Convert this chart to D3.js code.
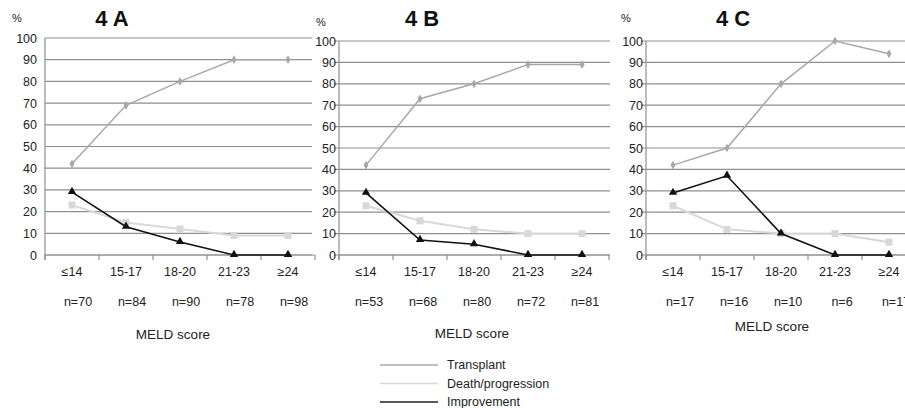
<!DOCTYPE html>
<html>
<head>
<meta charset="utf-8">
<script src="https://cdn.jsdelivr.net/npm/d3@7"></script>
<style>
  html, body { margin: 0; padding: 0; background: #fff; }
  svg { display: block; font-family: "Liberation Sans", Arial, sans-serif; }
</style>
</head>
<body>
<svg id="chart" width="905" height="408"></svg>
<script>
// MELD score groups and outcome percentages for the three cohorts
const categories = ["≤14", "15-17", "18-20", "21-23", "≥24"];
const yTicks = [0, 10, 20, 30, 40, 50, 60, 70, 80, 90, 100];

const transplantA = [42, 69, 80, 90, 90];
const deathA = [23, 15, 12, 9, 9];
const improvementA = [29, 13, 6, 0, 0];
const countsA = [70, 84, 90, 78, 98];

const transplantB = [42, 73, 80, 89, 89];
const deathB = [23, 16, 12, 10, 10];
const improvementB = [29, 7, 5, 0, 0];
const countsB = [53, 68, 80, 72, 81];

const transplantC = [42, 50, 80, 100, 94];
const deathC = [23, 12, 10, 10, 6];
const improvementC = [29, 37, 10, 0, 0];
const countsC = [17, 16, 10, 6, 17];

const seriesNames = ["Transplant", "Death/progression", "Improvement"];

const colors = {
  grid: "#8f8f8f",
  transplant: "#a8a8a8",
  death: "#d8d8d8",
  improvement: "#111111",
  text: "#222222"
};

const panels = [
  { title: "4 A", transplant: transplantA, death: deathA, improvement: improvementA, counts: countsA,
    left: 45, top: 38, gridEnd: 312, stub: 0, titleX: 112, pctX: 17, pctY: 22,
    nShift: 6, meldX: 173, meldY: 339 },
  { title: "4 B", transplant: transplantB, death: deathB, improvement: improvementB, counts: countsB,
    left: 339, top: 41, gridEnd: 610, stub: 5, titleX: 422, pctX: 321, pctY: 26,
    nShift: 3, meldX: 472, meldY: 338 },
  { title: "4 C", transplant: transplantC, death: deathC, improvement: improvementC, counts: countsC,
    left: 646, top: 41, gridEnd: 905, stub: 5, titleX: 733, pctX: 626, pctY: 22,
    nShift: 7, meldX: 772, meldY: 331 }
];

const bottom = 255;
const bandW = 54;
const svg = d3.select("#chart");

panels.forEach(p => {
  const g = svg.append("g");
  const x = d3.scaleBand().domain(categories).range([p.left, p.left + bandW * categories.length]);
  const y = d3.scaleLinear().domain([0, 100]).range([bottom, p.top]);

  // horizontal gridlines
  g.selectAll("line.grid").data(yTicks).join("line")
    .attr("x1", p.left - p.stub).attr("x2", p.gridEnd)
    .attr("y1", d => y(d)).attr("y2", d => y(d))
    .attr("stroke", colors.grid).attr("stroke-width", 1.2);

  // y axis
  const yAxis = d3.axisLeft(y).tickValues(yTicks).tickSize(0).tickPadding(p.stub ? 3 : 8);
  const ya = g.append("g").attr("transform", `translate(${p.left},0)`).call(yAxis);
  ya.select(".domain").attr("stroke", colors.grid).attr("stroke-width", 1.2)
    .attr("d", `M0,${p.top}V${bottom + 5}`);
  ya.selectAll("text").attr("font-size", 12.5).attr("fill", colors.text)
    .attr("font-family", "Liberation Sans, Arial, sans-serif");

  // x axis with ticks at band boundaries
  const xa = g.append("g").attr("transform", `translate(0,${bottom})`);
  const boundaries = d3.range(categories.length + 1).map(i => p.left + i * bandW);
  xa.append("line").attr("x1", p.left).attr("x2", Math.min(p.left + bandW * 5, 905))
    .attr("stroke", colors.grid).attr("stroke-width", 1.2);
  xa.selectAll("line.tick").data(boundaries).join("line")
    .attr("x1", d => d).attr("x2", d => d).attr("y1", 0).attr("y2", 5)
    .attr("stroke", colors.grid).attr("stroke-width", 1.2);
  xa.selectAll("text.cat").data(categories).join("text")
    .attr("x", d => x(d) + x.bandwidth() / 2).attr("y", 21)
    .attr("text-anchor", "middle").attr("font-size", 12.5).attr("fill", colors.text)
    .text(d => d);

  // group sizes
  g.selectAll("text.n").data(p.counts).join("text")
    .attr("x", (d, i) => x(categories[i]) + x.bandwidth() / 2 + p.nShift).attr("y", 306)
    .attr("text-anchor", "middle").attr("font-size", 12.5).attr("fill", colors.text)
    .text(d => "n=" + d);

  g.append("text").attr("x", p.meldX).attr("y", p.meldY)
    .attr("text-anchor", "middle").attr("font-size", 13.5).attr("fill", colors.text)
    .text("MELD score");

  // title and unit
  g.append("text").attr("x", p.titleX).attr("y", 26).attr("text-anchor", "middle")
    .attr("font-size", 22).attr("font-weight", "bold").attr("fill", "#111").text(p.title);
  g.append("text").attr("x", p.pctX).attr("y", p.pctY).attr("text-anchor", "middle")
    .attr("font-size", 11).attr("fill", colors.text).text("%");

  const cx = (d, i) => x(categories[i]) + x.bandwidth() / 2;
  const line = d3.line().x((d, i) => cx(d, i)).y(d => y(d));

  // death / progression
  g.append("path").datum(p.death).attr("d", line).attr("fill", "none")
    .attr("stroke", colors.death).attr("stroke-width", 2);
  g.selectAll("rect.death").data(p.death).join("rect")
    .attr("x", (d, i) => cx(d, i) - 3.5).attr("y", d => y(d) - 3.5)
    .attr("width", 7).attr("height", 7).attr("fill", colors.death);

  // transplant
  g.append("path").datum(p.transplant).attr("d", line).attr("fill", "none")
    .attr("stroke", colors.transplant).attr("stroke-width", 1.5);
  g.selectAll("path.tx").data(p.transplant).join("path")
    .attr("d", d3.symbol(d3.symbolDiamond, 22))
    .attr("transform", (d, i) => `translate(${cx(d, i)},${y(d)})`)
    .attr("fill", colors.transplant);

  // improvement
  g.append("path").datum(p.improvement).attr("d", line).attr("fill", "none")
    .attr("stroke", colors.improvement).attr("stroke-width", 1.6);
  g.selectAll("path.imp").data(p.improvement).join("path")
    .attr("d", d3.symbol(d3.symbolTriangle, 30))
    .attr("transform", (d, i) => `translate(${cx(d, i)},${y(d) - 0.5})`)
    .attr("fill", colors.improvement);
});

// legend
const legend = svg.append("g");
const legendColors = [colors.transplant, colors.death, "#222"];
seriesNames.forEach((name, i) => {
  const yy = 365 + i * 18.5;
  legend.append("line").attr("x1", 380).attr("x2", 438).attr("y1", yy).attr("y2", yy)
    .attr("stroke", legendColors[i]).attr("stroke-width", 1.4);
  legend.append("text").attr("x", 447).attr("y", yy + 4).attr("font-size", 12.5)
    .attr("fill", colors.text).text(name);
});
</script>
</body>
</html>
